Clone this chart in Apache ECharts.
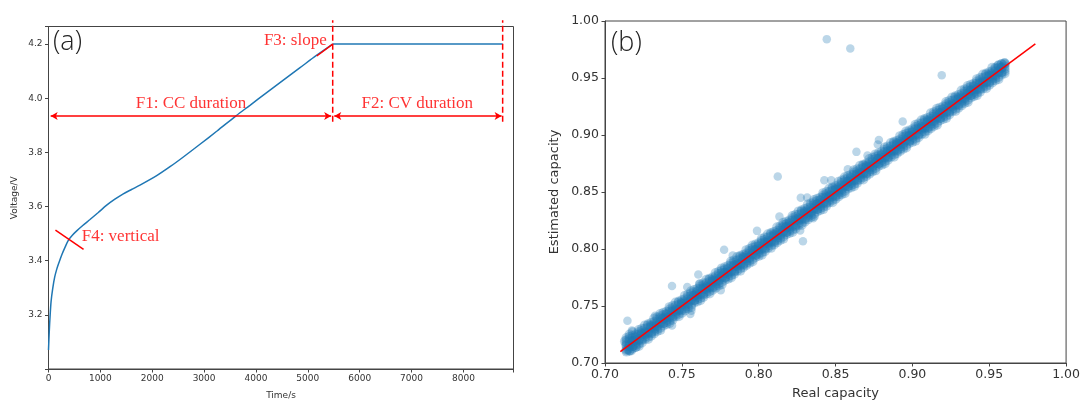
<!DOCTYPE html>
<html><head><meta charset="utf-8">
<script src="https://cdn.jsdelivr.net/npm/echarts@6/dist/echarts.min.js"></script>
<style>html,body{margin:0;padding:0;background:#fff}#c{width:1083px;height:405px}</style>
</head><body><div id="c"></div>
<script>
// ---------- Panel (a): charging curve ----------
const ccTime    = [0, 15, 29, 50, 81, 120, 158, 200, 255, 320, 382, 460, 544, 660, 800, 960, 1122, 1280, 1442, 1600, 1764, 2086, 2350, 2600, 2921, 3243, 3616, 3885, 4207, 4528, 4850, 5172, 5480];
const ccVoltage = [3.07, 3.14, 3.19, 3.25, 3.297, 3.34, 3.368, 3.392, 3.421, 3.45, 3.475, 3.494, 3.510, 3.53, 3.552, 3.578, 3.605, 3.627, 3.647, 3.663, 3.679, 3.714, 3.748, 3.783, 3.830, 3.878, 3.935, 3.974, 4.021, 4.067, 4.113, 4.159, 4.2];
const cvTime    = [5480, 8757];
const cvVoltage = [4.2, 4.2];
const xTicksA = [0, 1000, 2000, 3000, 4000, 5000, 6000, 7000, 8000];
const yTicksA = [3.2, 3.4, 3.6, 3.8, 4.0, 4.2];

// annotation anchors (data coordinates of panel a)
const ccEnd = 5480, cvEnd = 8757, arrowStart = 42, arrowLevel = 3.934;
const dashLow = 3.913, dashHigh = 4.288;
const slopeSeg = [[5173, 4.156], [5480, 4.2]];
const verticalSeg = [[134, 3.513], [676, 3.442]];
const annoText = ['F1: CC duration', 'F2: CV duration', 'F3: slope', 'F4: vertical'];
const annoX = [2748, 7109, 5364, 640];
const annoY = [3.981, 3.981, 4.212, 3.489];
const annoAlign = ['center', 'center', 'right', 'left'];

// ---------- Panel (b): real vs estimated capacity ----------
const bandX = [
  0.714,0.716,0.718,0.720,0.722,0.724,0.726,0.728,0.730,0.732,
  0.734,0.736,0.738,0.740,0.742,0.744,0.746,0.748,0.750,0.752,
  0.754,0.756,0.758,0.760,0.762,0.764,0.766,0.768,0.770,0.772,
  0.774,0.776,0.778,0.780,0.782,0.784,0.786,0.788,0.790,0.792,
  0.794,0.796,0.798,0.800,0.802,0.804,0.806,0.808,0.810,0.812,
  0.814,0.816,0.818,0.820,0.822,0.824,0.826,0.828,0.830,0.832,
  0.834,0.836,0.838,0.840,0.842,0.844,0.846,0.848,0.850,0.852,
  0.854,0.856,0.858,0.860,0.862,0.864,0.866,0.868,0.870,0.872,
  0.874,0.876,0.878,0.880,0.882,0.884,0.886,0.888,0.890,0.892,
  0.894,0.896,0.898,0.900,0.902,0.904,0.906,0.908,0.910,0.912,
  0.914,0.916,0.918,0.920,0.922,0.924,0.926,0.928,0.930,0.932,
  0.934,0.936,0.938,0.940,0.942,0.944,0.946,0.948,0.950,0.952,
  0.954,0.956,0.958,0.960];
const bandYMid = [
  0.715,0.716,0.719,0.720,0.721,0.725,0.726,0.727,0.731,0.732,
  0.733,0.736,0.739,0.740,0.741,0.745,0.746,0.747,0.751,0.752,
  0.753,0.756,0.759,0.760,0.761,0.765,0.766,0.767,0.771,0.772,
  0.773,0.776,0.779,0.780,0.781,0.785,0.786,0.787,0.791,0.792,
  0.793,0.796,0.799,0.800,0.801,0.805,0.806,0.807,0.811,0.812,
  0.813,0.816,0.819,0.820,0.821,0.825,0.826,0.827,0.831,0.832,
  0.833,0.836,0.839,0.840,0.841,0.845,0.846,0.847,0.851,0.852,
  0.853,0.856,0.859,0.860,0.861,0.865,0.866,0.867,0.871,0.872,
  0.873,0.876,0.879,0.880,0.881,0.885,0.886,0.887,0.891,0.892,
  0.893,0.896,0.899,0.900,0.901,0.905,0.906,0.907,0.911,0.912,
  0.913,0.916,0.919,0.920,0.921,0.925,0.926,0.927,0.931,0.932,
  0.933,0.936,0.939,0.940,0.941,0.945,0.946,0.947,0.951,0.952,
  0.953,0.956,0.959,0.960];
const bandYUpperInner = [
  0.716,0.719,0.719,0.722,0.725,0.726,0.727,0.731,0.732,0.734,
  0.736,0.739,0.739,0.742,0.745,0.746,0.747,0.751,0.752,0.754,
  0.756,0.759,0.759,0.762,0.765,0.766,0.767,0.771,0.772,0.774,
  0.776,0.779,0.779,0.782,0.785,0.786,0.787,0.791,0.792,0.794,
  0.796,0.799,0.799,0.802,0.805,0.806,0.807,0.811,0.812,0.814,
  0.816,0.819,0.819,0.822,0.825,0.826,0.827,0.831,0.832,0.834,
  0.836,0.839,0.839,0.842,0.845,0.846,0.847,0.851,0.852,0.854,
  0.856,0.859,0.859,0.862,0.865,0.866,0.867,0.871,0.872,0.874,
  0.876,0.879,0.879,0.882,0.885,0.886,0.887,0.891,0.892,0.894,
  0.896,0.899,0.899,0.902,0.905,0.906,0.907,0.911,0.912,0.914,
  0.916,0.919,0.919,0.922,0.925,0.926,0.927,0.931,0.932,0.934,
  0.936,0.939,0.939,0.942,0.945,0.946,0.947,0.951,0.952,0.954,
  0.956,0.959,0.959,0.962];
const bandYLowerInner = [
  0.712,0.715,0.715,0.718,0.720,0.721,0.725,0.726,0.727,0.730,
  0.732,0.735,0.735,0.738,0.740,0.741,0.745,0.746,0.747,0.750,
  0.752,0.755,0.755,0.758,0.760,0.761,0.765,0.766,0.767,0.770,
  0.772,0.775,0.775,0.778,0.780,0.781,0.785,0.786,0.787,0.790,
  0.792,0.795,0.795,0.798,0.800,0.801,0.805,0.806,0.807,0.810,
  0.812,0.815,0.815,0.818,0.820,0.821,0.825,0.826,0.827,0.830,
  0.832,0.835,0.835,0.838,0.840,0.841,0.845,0.846,0.847,0.850,
  0.852,0.855,0.855,0.858,0.860,0.861,0.865,0.866,0.867,0.870,
  0.872,0.875,0.875,0.878,0.880,0.881,0.885,0.886,0.887,0.890,
  0.892,0.895,0.895,0.898,0.900,0.901,0.905,0.906,0.907,0.910,
  0.912,0.915,0.915,0.918,0.920,0.921,0.925,0.926,0.927,0.930,
  0.932,0.935,0.935,0.938,0.940,0.941,0.945,0.946,0.947,0.950,
  0.952,0.955,0.955,0.958];
const bandYUpperOuter = [
  0.718,0.721,0.722,0.723,0.727,0.728,0.730,0.733,0.733,0.736,
  0.738,0.741,0.742,0.743,0.747,0.748,0.750,0.753,0.753,0.756,
  0.758,0.761,0.762,0.763,0.767,0.768,0.770,0.773,0.773,0.776,
  0.778,0.781,0.782,0.783,0.787,0.788,0.790,0.793,0.793,0.796,
  0.798,0.801,0.802,0.803,0.807,0.808,0.810,0.813,0.813,0.816,
  0.818,0.821,0.822,0.823,0.827,0.828,0.830,0.833,0.833,0.836,
  0.838,0.841,0.842,0.843,0.847,0.848,0.850,0.853,0.853,0.856,
  0.858,0.861,0.862,0.863,0.867,0.868,0.870,0.873,0.873,0.876,
  0.878,0.881,0.882,0.883,0.887,0.888,0.890,0.893,0.893,0.896,
  0.898,0.901,0.902,0.903,0.907,0.908,0.910,0.913,0.913,0.916,
  0.918,0.921,0.922,0.923,0.927,0.928,0.930,0.933,0.933,0.936,
  0.938,0.941,0.942,0.943,0.947,0.948,0.950,0.953,0.953,0.956,
  0.958,0.961,0.962,0.963];
const bandYLowerOuter = [
  0.710,0.711,0.715,0.716,0.717,0.720,0.723,0.723,0.726,0.728,
  0.730,0.731,0.735,0.736,0.737,0.740,0.743,0.743,0.746,0.748,
  0.750,0.751,0.755,0.756,0.757,0.760,0.763,0.763,0.766,0.768,
  0.770,0.771,0.775,0.776,0.777,0.780,0.783,0.783,0.786,0.788,
  0.790,0.791,0.795,0.796,0.797,0.800,0.803,0.803,0.806,0.808,
  0.810,0.811,0.815,0.816,0.817,0.820,0.823,0.823,0.826,0.828,
  0.830,0.831,0.835,0.836,0.837,0.840,0.843,0.843,0.846,0.848,
  0.850,0.851,0.855,0.856,0.857,0.860,0.863,0.863,0.866,0.868,
  0.870,0.871,0.875,0.876,0.877,0.880,0.883,0.883,0.886,0.888,
  0.890,0.891,0.895,0.896,0.897,0.900,0.903,0.903,0.906,0.908,
  0.910,0.911,0.915,0.916,0.917,0.920,0.923,0.923,0.926,0.928,
  0.930,0.931,0.935,0.936,0.937,0.940,0.943,0.943,0.946,0.948,
  0.950,0.951,0.955,0.956];
const bandYUpperEdge = [
  0.720,0.723,0.724,0.725,0.729,0.730,0.733,0.734,0.735,0.739,
  0.740,0.743,0.744,0.745,0.749,0.750,0.753,0.754,0.755,0.759,
  0.760,0.763,0.764,0.765,0.769,0.770,0.773,0.774,0.775,0.779,
  0.780,0.783,0.784,0.785,0.789,0.790,0.793,0.794,0.795,0.799,
  0.800,0.803,0.804,0.805,0.809,0.810,0.813,0.814,0.815,0.819,
  0.820,0.823,0.824,0.825,0.829,0.830,0.833,0.834,0.835,0.839,
  0.840,0.843,0.844,0.845,0.849,0.850,0.853,0.854,0.855,0.859,
  0.860,0.863,0.864,0.865,0.869,0.870,0.873,0.874,0.875,0.879,
  0.880,0.883,0.884,0.885,0.889,0.890,0.893,0.894,0.895,0.899,
  0.900,0.903,0.904,0.905,0.909,0.910,0.913,0.914,0.915,0.919,
  0.920,0.923,0.924,0.925,0.929,0.930,0.933,0.934,0.935,0.939,
  0.940,0.943,0.944,0.945,0.949,0.950,0.953,0.954,0.955,0.959,
  0.959,0.961,0.962,0.963];
const bandYLowerEdge = [
  0.711,0.711,0.713,0.714,0.715,0.718,0.721,0.721,0.724,0.726,
  0.728,0.729,0.733,0.734,0.735,0.738,0.741,0.741,0.744,0.746,
  0.748,0.749,0.753,0.754,0.755,0.758,0.761,0.761,0.764,0.766,
  0.768,0.769,0.773,0.774,0.775,0.778,0.781,0.781,0.784,0.786,
  0.788,0.789,0.793,0.794,0.795,0.798,0.801,0.801,0.804,0.806,
  0.808,0.809,0.813,0.814,0.815,0.818,0.821,0.821,0.824,0.826,
  0.828,0.829,0.833,0.834,0.835,0.838,0.841,0.841,0.844,0.846,
  0.848,0.849,0.853,0.854,0.855,0.858,0.861,0.861,0.864,0.866,
  0.868,0.869,0.873,0.874,0.875,0.878,0.881,0.881,0.884,0.886,
  0.888,0.889,0.893,0.894,0.895,0.898,0.901,0.901,0.904,0.906,
  0.908,0.909,0.913,0.914,0.915,0.918,0.921,0.921,0.924,0.926,
  0.928,0.929,0.933,0.934,0.935,0.938,0.941,0.941,0.944,0.946,
  0.948,0.949,0.953,0.954];
const startCluster = [[0.714,0.722],[0.716,0.725],[0.715,0.712],[0.718,0.727],[0.717,0.711],[0.713,0.719],[0.720,0.714]];
const outliers = [[0.8443,0.9841],[0.8596,0.9759],[0.9191,0.9525],[0.8937,0.9119],[0.8782,0.8957],[0.8775,0.8916],[0.8636,0.8852],[0.8708,0.882],[0.8124,0.8635],[0.858,0.8699],[0.8427,0.8603],[0.8472,0.8603],[0.8274,0.8449],[0.8315,0.8452],[0.8135,0.8284],[0.8288,0.8067],[0.827,0.8162],[0.8355,0.827],[0.7989,0.8159],[0.7775,0.7994],[0.7831,0.7942],[0.7607,0.7777],[0.7613,0.7696],[0.7436,0.7675],[0.7535,0.7667],[0.7753,0.7638],[0.7326,0.7415],[0.7562,0.7458],[0.7555,0.7429],[0.7436,0.7328],[0.7146,0.7371],[0.7175,0.7284]];
const idealX = [0.71, 0.98];
const idealY = [0.71, 0.98];
const xTicksB = [0.70, 0.75, 0.80, 0.85, 0.90, 0.95, 1.00];
const yTicksB = [0.70, 0.75, 0.80, 0.85, 0.90, 0.95, 1.00];

// ---------- build ----------
const RED = '#ff0000', BLUE = '#1f77b4', AX = '#444', TXT = '#333';
const isTick = (arr, v) => arr.some(t => Math.abs(t - v) < 1e-6);
const pairs = (xs, ys) => xs.map((x, i) => [x, ys[i]]).filter(p => p[1] !== undefined);

function axisCommon(fs, tickLen, margin) {
  return {
    type: 'value',
    axisLine: { show: true, onZero: false, lineStyle: { color: AX, width: 1 } },
    axisTick: { show: true, inside: false, length: tickLen, lineStyle: { color: AX, width: 1 } },
    splitLine: { show: false },
    axisLabel: { show: true, fontFamily: 'DejaVu Sans', fontSize: fs, color: TXT, margin: margin }
  };
}

const xA = axisCommon(9, 3.5, 5);
Object.assign(xA, { gridIndex: 0, min: 0, max: 8966, interval: 1000,
  name: 'Time/s', nameLocation: 'middle', nameGap: 22,
  nameTextStyle: { fontFamily: 'DejaVu Sans', fontSize: 9, color: TXT } });
xA.axisLabel.formatter = v => isTick(xTicksA, v) ? String(v) : '';

const yA = axisCommon(9, 3.5, 6);
Object.assign(yA, { gridIndex: 0, min: 3.0, max: 4.265, interval: 0.2,
  name: 'Voltage/V', nameLocation: 'middle', nameGap: 29,
  nameTextStyle: { fontFamily: 'DejaVu Sans', fontSize: 9, color: TXT } });
yA.axisLabel.formatter = v => isTick(yTicksA, v) ? v.toFixed(1) : '';

const xB = axisCommon(12.5, 3.5, 5);
Object.assign(xB, { gridIndex: 1, min: 0.70, max: 1.00, interval: 0.05,
  name: 'Real capacity', nameLocation: 'middle', nameGap: 24,
  nameTextStyle: { fontFamily: 'DejaVu Sans', fontSize: 13, color: TXT } });
xB.axisLabel.formatter = v => isTick(xTicksB, v) ? v.toFixed(2) : '';

const yB = axisCommon(12.5, 3.5, 6);
Object.assign(yB, { gridIndex: 1, min: 0.70, max: 1.00, interval: 0.05,
  name: 'Estimated capacity', nameLocation: 'middle', nameGap: 44,
  nameTextStyle: { fontFamily: 'DejaVu Sans', fontSize: 13, color: TXT } });
yB.axisLabel.formatter = v => isTick(yTicksB, v) ? v.toFixed(2) : '';

const redLine = (w, type) => ({ color: RED, width: w, type: type || 'solid' });
const vline = (t) => ({ type: 'line', xAxisIndex: 0, yAxisIndex: 0, data: [[t, dashLow], [t, dashHigh]],
  showSymbol: false, clip: false, silent: true, lineStyle: redLine(1.5, [6, 3]), z: 4 });

const bandPoints = [].concat(
  pairs(bandX, bandYUpperEdge), pairs(bandX, bandYLowerEdge),
  pairs(bandX, bandYUpperOuter), pairs(bandX, bandYLowerOuter),
  pairs(bandX, bandYUpperInner), pairs(bandX, bandYLowerInner),
  pairs(bandX, bandYMid), startCluster);

const option = {
  animation: false,
  backgroundColor: '#fff',
  title: [
    { text: '(a)', left: 53, top: 29, padding: 0,
      textStyle: { fontFamily: 'Open Sans', fontWeight: 300, fontSize: 27, color: '#222' } },
    { text: '(b)', left: 611, top: 30, padding: 0,
      textStyle: { fontFamily: 'Open Sans', fontWeight: 300, fontSize: 27, color: '#222' } }
  ],
  grid: [
    { left: 48.5, top: 26.5, width: 465, height: 350, show: true, borderColor: AX, borderWidth: 1, backgroundColor: 'transparent', containLabel: false },
    { left: 605, top: 21, width: 462, height: 345, show: true, borderColor: AX, borderWidth: 1, backgroundColor: 'transparent', containLabel: false }
  ],
  xAxis: [xA, xB],
  yAxis: [yA, yB],
  series: [
    { type: 'line', xAxisIndex: 0, yAxisIndex: 0, data: pairs(ccTime, ccVoltage), smooth: 0.3,
      showSymbol: false, lineStyle: { color: BLUE, width: 1.5 }, z: 2 },
    { type: 'line', xAxisIndex: 0, yAxisIndex: 0, data: pairs(cvTime, cvVoltage), clip: false,
      showSymbol: false, lineStyle: { color: BLUE, width: 1.5 }, z: 2,
      markLine: {
        silent: true, animation: false, label: { show: false },
        symbol: ['arrow', 'arrow'], symbolSize: [6, 7],
        lineStyle: redLine(1.5),
        data: [
          [{ coord: [arrowStart, arrowLevel] }, { coord: [ccEnd - 30, arrowLevel] }],
          [{ coord: [ccEnd + 30, arrowLevel] }, { coord: [cvEnd - 20, arrowLevel] }]
        ]
      } },
    vline(ccEnd),
    vline(cvEnd),
    { type: 'line', xAxisIndex: 0, yAxisIndex: 0, data: slopeSeg, showSymbol: false, clip: false,
      lineStyle: redLine(1.5), z: 3 },
    { type: 'line', xAxisIndex: 0, yAxisIndex: 0, data: verticalSeg, showSymbol: false, clip: false,
      lineStyle: redLine(1.5), z: 3 },
    { type: 'scatter', xAxisIndex: 0, yAxisIndex: 0, symbolSize: 1, clip: false, z: 5, silent: true,
      itemStyle: { color: 'rgba(0,0,0,0)' },
      data: annoText.map((t, i) => ({ value: [annoX[i], annoY[i]], name: t,
        label: { show: true, position: 'inside', align: annoAlign[i], verticalAlign: 'middle',
          formatter: t, fontFamily: 'Liberation Serif', fontSize: 17, color: RED } })) },
    { type: 'scatter', xAxisIndex: 1, yAxisIndex: 1, symbolSize: 10, large: false,
      itemStyle: { color: BLUE, opacity: 0.3, borderWidth: 0 }, data: bandPoints, z: 2 },
    { type: 'scatter', xAxisIndex: 1, yAxisIndex: 1, symbolSize: 8.5, large: false,
      itemStyle: { color: BLUE, opacity: 0.3, borderWidth: 0 }, data: outliers, z: 2 },
    { type: 'line', xAxisIndex: 1, yAxisIndex: 1, data: pairs(idealX, idealY), showSymbol: false,
      lineStyle: redLine(1.5), z: 3 }
  ]
};

const chart = echarts.init(document.getElementById('c'), null, { renderer: 'canvas' });
chart.setOption(option);
</script></body></html>
